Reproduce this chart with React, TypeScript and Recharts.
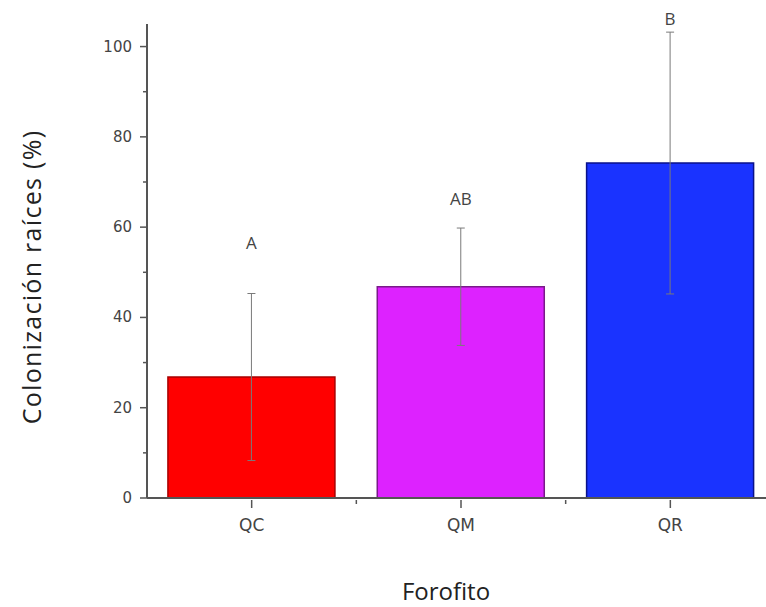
import React from 'react';
import { BarChart, Bar, XAxis, YAxis, ErrorBar, Cell, LabelList } from 'recharts';

const categories = ['QC', 'QM', 'QR'];
const colonization = [26.8, 46.8, 74.2];
const errors = [18.5, 13.0, 29.0];
const letters = ['A', 'AB', 'B'];
const letterLevels = [56.5, 66.3, 106];
const fills = ['#ff0000', '#dd22ff', '#1a33ff'];
const strokes = ['#a80000', '#7a1a8a', '#0a128a'];
const yTicks = [0, 10, 20, 30, 40, 50, 60, 70, 80, 90, 100];

const data = categories.map((c, i) => ({
  name: c,
  value: colonization[i],
  err: errors[i],
  letter: letters[i],
}));

const YTick = (props: any) => {
  const { x, y, payload } = props;
  const major = payload.value % 20 === 0;
  return (
    <g>
      <line x1={x - (major ? 7 : 4)} x2={x} y1={y} y2={y} stroke="#555" strokeWidth={1.5} />
      {major && (
        <text x={x - 15} y={y} dy={5} textAnchor="end" fontSize={15} fill="#444" fontFamily="DejaVu Sans, sans-serif">
          {payload.value}
        </text>
      )}
    </g>
  );
};

const XTick = (props: any) => {
  const { x, y, payload } = props;
  const off = payload.offset || 0;
  return (
    <g>
      <line x1={x} x2={x} y1={y} y2={y + 8} stroke="#555" strokeWidth={1.5} />
      <line x1={x + off} x2={x + off} y1={y} y2={y + 4} stroke="#555" strokeWidth={1.5} />
      <text x={x} y={y + 31} textAnchor="middle" fontSize={17} fill="#444" fontFamily="DejaVu Sans, sans-serif">
        {payload.value}
      </text>
    </g>
  );
};

const LetterLabel = (props: any) => {
  const { x, y, width, height, index } = props;
  const base = y + height;
  const pxPerUnit = height / colonization[index];
  const ly = base - letterLevels[index] * pxPerUnit;
  return (
    <text x={x + width / 2} y={ly} dy={6} textAnchor="middle" fontSize={17} fill="#444" fontFamily="Open Sans, sans-serif">
      {letters[index]}
    </text>
  );
};

export default function App() {
  return (
    <div style={{ position: 'absolute', left: 0, top: 0, width: 766, height: 607, overflow: 'hidden', background: '#fff' }}>
      <BarChart
        width={800}
        height={607}
        data={data}
        margin={{ top: 24, right: 25, left: 0, bottom: 79 }}
        barCategoryGap="10%"
      >
        <XAxis
          dataKey="name"
          height={30}
          tickSize={0}
          tick={<XTick />}
          axisLine={{ stroke: '#555', strokeWidth: 2 }}
          label={(p: any) => {
            const vb = p.viewBox;
            return (
              <text x={446} y={vb.y + 102} textAnchor="middle" fontSize={24} fill="#222" fontFamily="Open Sans, sans-serif">
                Forofito
              </text>
            );
          }}
        />
        <YAxis
          width={147}
          domain={[0, 105]}
          ticks={yTicks}
          interval={0}
          tickSize={0}
          tickMargin={0}
          tick={<YTick />}
          axisLine={{ stroke: '#555', strokeWidth: 2 }}
          label={(p: any) => {
            const vb = p.viewBox;
            const cx = 31;
            const cy = vb.y + vb.height / 2 + 16;
            return (
              <text x={cx} y={cy} transform={`rotate(-90 ${cx} ${cy})`} textAnchor="middle" dominantBaseline="central" fontSize={25} letterSpacing={1.3} fill="#222" fontFamily="Open Sans, sans-serif">
                Colonización raíces (%)
              </text>
            );
          }}
        />
        <Bar dataKey="value" isAnimationActive={false} strokeWidth={1.5}>
          {data.map((d, i) => (
            <Cell key={d.name} fill={fills[i]} stroke={strokes[i]} />
          ))}
          <ErrorBar dataKey="err" width={4} stroke="#7a7a7a" strokeWidth={1} />
          <LabelList dataKey="letter" content={<LetterLabel />} />
        </Bar>
      </BarChart>
    </div>
  );
}
